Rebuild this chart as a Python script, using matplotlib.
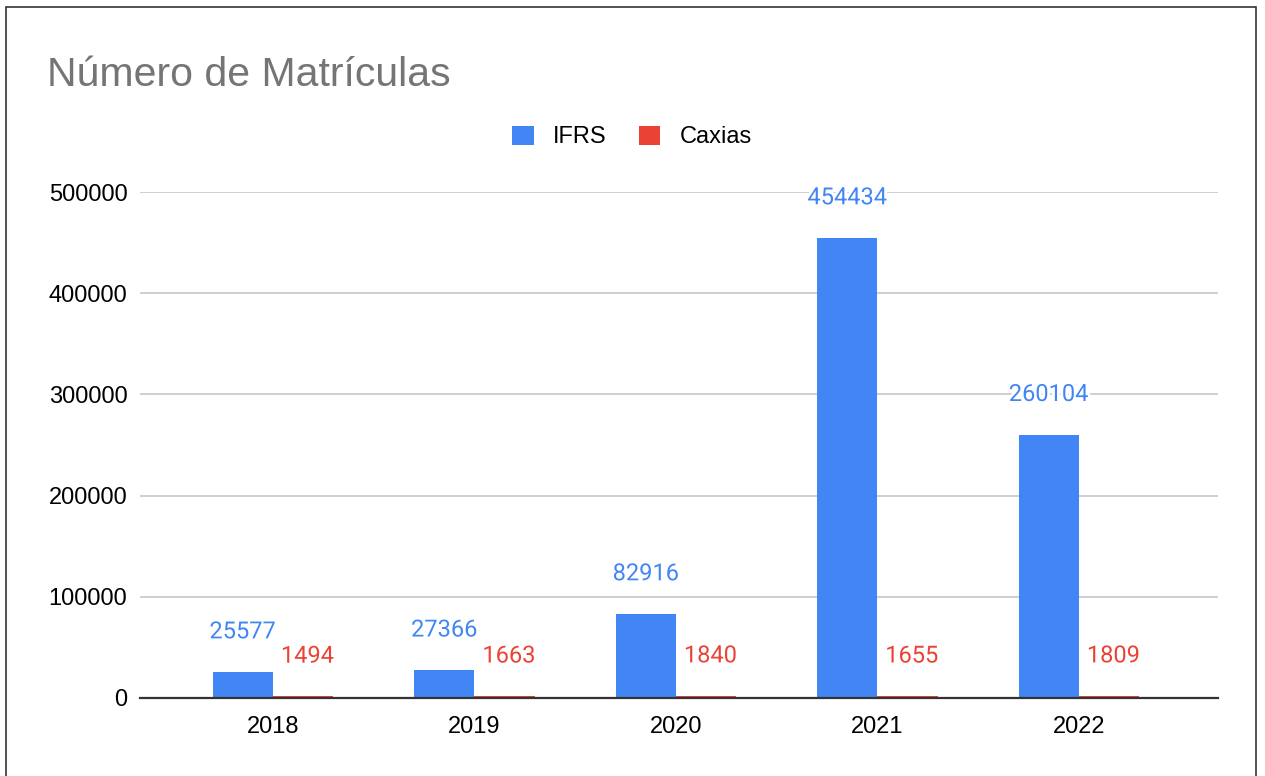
import matplotlib.pyplot as plt
import matplotlib.patheffects as pe
import numpy as np

# chart data
years = ['2018', '2019', '2020', '2021', '2022']
ifrs = [25577, 27366, 82916, 454434, 260104]
caxias = [1494, 1663, 1840, 1655, 1809]

blue = '#4285f4'
red = '#ea4335'

fig = plt.figure(figsize=(12.65, 7.76), dpi=100)
ax = fig.add_axes([140 / 1265, 1 - 698 / 776, 1078 / 1265, 506 / 776])

x = np.arange(len(years))
w = 0.3
b1 = ax.bar(x - w / 2, ifrs, w, color=blue, label='IFRS', zorder=3)
b2 = ax.bar(x + w / 2, caxias, w, color=red, label='Caxias', zorder=3)

halo = [pe.withStroke(linewidth=4, foreground='white')]
for bars, vals, c, dx in [(b1, ifrs, blue, 0), (b2, caxias, red, 3)]:
    for rect, v in zip(bars, vals):
        ax.annotate(str(v), (rect.get_x() + rect.get_width() / 2, v),
                    xytext=(dx, 29), textcoords='offset points',
                    ha='center', va='center', color=c, fontsize=17,
                    family='Roboto', path_effects=halo, zorder=4)

ax.set_xlim(-0.66, 4.69)
ax.set_ylim(0, 500000)
ax.set_yticks(range(0, 500001, 100000))
ax.set_xticks(x)
ax.set_xticklabels(years)
ax.tick_params(length=0, labelsize=17, pad=13)
ax.tick_params(axis='y', pad=9)
for lbl in ax.get_xticklabels() + ax.get_yticklabels():
    lbl.set_family('Liberation Sans')
ax.grid(axis='y', color='#cccccc', linewidth=1.3, zorder=0)
ax.set_axisbelow(True)
for s in ['top', 'right', 'left']:
    ax.spines[s].set_visible(False)
ax.spines['bottom'].set_color('#333333')
ax.spines['bottom'].set_linewidth(1.6)
ax.spines['bottom'].set_zorder(5)

fig.text(47 / 1265, 1 - 75 / 776, 'Número de Matrículas', fontsize=29.5,
         color='#757575', family='Liberation Sans', va='center')

leg = fig.legend(handles=[b1, b2], loc='center', bbox_to_anchor=(632 / 1265, 1 - 137 / 776),
                 ncol=2, frameon=False, prop={'family': 'Liberation Sans', 'size': 17},
                 handlelength=0.9, handleheight=0.9, columnspacing=1.4, handletextpad=0.8)

fig.add_artist(plt.Rectangle((6 / 1265, -0.01), 1250 / 1265, 1 - 7 / 776 + 0.01,
                             transform=fig.transFigure, fill=False,
                             edgecolor='#333333', linewidth=1.2))

fig.savefig('out.png', dpi=100)
